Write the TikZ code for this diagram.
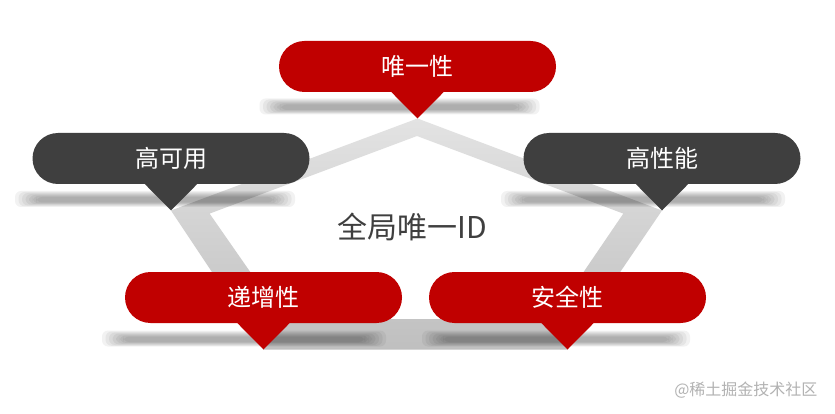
\documentclass[tikz,border=0pt]{standalone}
\usepackage{fontspec}
\setmainfont{Noto Sans CJK SC}
\usetikzlibrary{calc}
\definecolor{bred}{HTML}{C00000}
\definecolor{bdark}{HTML}{3F3F3F}
\newcommand\softshadow[4]{%
  \foreach \k in {0,...,6}{%
    \fill[shadowlayer] ({#1-#3+\k*3.5},{#2-#4+\k*1.0}) rectangle ({#1+#3-\k*3.5},{#2+#4-\k*0.75});
  }%
}
\tikzset{
  bubble/.style={rounded corners=25.5pt, minimum width=277pt, minimum height=51pt, inner sep=0pt, text=white, font=\fontsize{24}{28}\selectfont},
  redbub/.style={bubble, fill=bred},
  darkbub/.style={bubble, fill=bdark},
  shadowlayer/.style={black, fill opacity=0.05, rounded corners=6pt},
  band/.style={even odd rule, top color=black!11, bottom color=black!25}
}
\begin{document}
\begin{tikzpicture}[x=1pt,y=-1pt]
\useasboundingbox[fill=white] (0,0) rectangle (835,414);
\path
  (417.5,66.5) coordinate (c1)
  (171,158.5) coordinate (c2)
  (662,158.5) coordinate (c3)
  (263.5,297.5) coordinate (c4)
  (567.5,297.5) coordinate (c5);
% tips of pointers
\coordinate (t1) at ($(c1)+(0,52)$);
\coordinate (t2) at ($(c2)+(0,52)$);
\coordinate (t3) at ($(c3)+(0,52)$);
\coordinate (t4) at ($(c4)+(0,52)$);
\coordinate (t5) at ($(c5)+(0,52)$);
% inner corners of the pentagon band
\coordinate (i1) at (417,136);
\coordinate (i2) at (209.6,213.6);
\coordinate (i3) at (623.3,213.6);
\coordinate (i4) at (283,319);
\coordinate (i5) at (551.6,319);
% pentagon band
\shade[band] (t1) -- (t3) -- (t5) -- (t4) -- (t2) -- cycle
             (i1) -- (i3) -- (i5) -- (i4) -- (i2) -- cycle;
% shadows
\softshadow{399.5}{106.5}{140}{8}
\softshadow{155}{199}{140}{8}
\softshadow{643}{199}{142}{8}
\softshadow{244}{338.5}{142}{8}
\softshadow{556}{338.5}{134}{8}
% bubbles
\node[redbub]  (b1) at (c1) {唯一性};
\node[darkbub] (b2) at (c2) {高可用};
\node[darkbub] (b3) at (c3) {高性能};
\node[redbub]  (b4) at (c4) {递增性};
\node[redbub]  (b5) at (c5) {安全性};
\fill[bred]  ($(b1.south)+(-28,-2)$) -- ($(b1.south)+(28,-2)$) -- (t1) -- cycle;
\fill[bdark] ($(b2.south)+(-28,-2)$) -- ($(b2.south)+(28,-2)$) -- (t2) -- cycle;
\fill[bdark] ($(b3.south)+(-28,-2)$) -- ($(b3.south)+(28,-2)$) -- (t3) -- cycle;
\fill[bred]  ($(b4.south)+(-28,-2)$) -- ($(b4.south)+(28,-2)$) -- (t4) -- cycle;
\fill[bred]  ($(b5.south)+(-28,-2)$) -- ($(b5.south)+(28,-2)$) -- (t5) -- cycle;
% centre text
\node[text=bdark, font=\fontsize{30}{35}\selectfont] (center) at (412,227) {全局唯一ID};
% watermark
\node[text=black!30, font=\fontsize{16}{19}\selectfont, anchor=east] (wm) at (821,390) {@稀土掘金技术社区};
\end{tikzpicture}
\end{document}
